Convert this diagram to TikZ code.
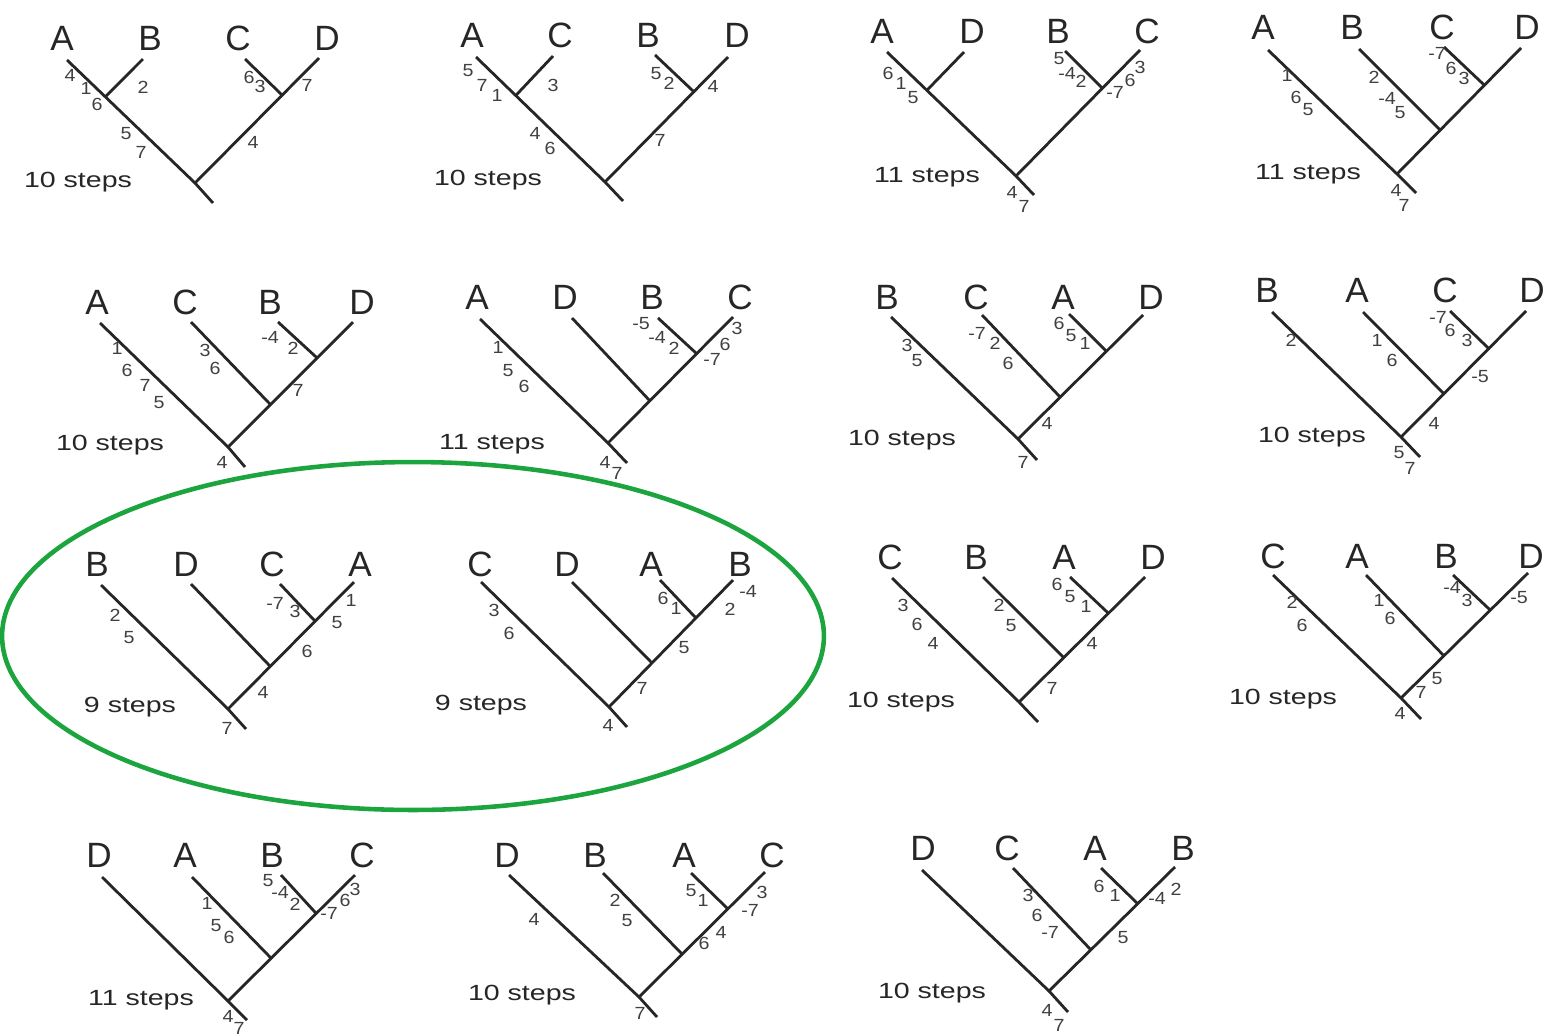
\documentclass[tikz,border=0pt]{standalone}
\usepackage{fontspec}
\setmainfont{Liberation Sans}
\newfontfamily\stepsfont[FakeStretch=1.3]{Liberation Sans}
\newfontfamily\numfont[FakeStretch=1.12]{Liberation Sans}
\usepackage{tikz}
\definecolor{ringgreen}{RGB}{28,164,62}

\begin{document}
\begin{tikzpicture}[
    x=0.02cm, y=-0.02cm,
    branch/.style={line width=1.6pt, draw=black!85},
    leaf/.style={font=\fontsize{20}{20}\selectfont, text=black!85, inner sep=0pt, text depth=0pt},
    num/.style={font=\numfont\fontsize{10}{10}\selectfont, text=black!75, inner sep=0pt, text depth=0pt},
    score/.style={font=\stepsfont\fontsize{12.5}{12.5}\selectfont, text=black!85, inner sep=0pt, text depth=0pt},
    ring/.style={draw=ringgreen, line width=2.6pt}]

    \useasboundingbox (0,0) rectangle (1548,1035);

    % the two shortest trees
    \draw[ring] (413,636) ellipse [x radius=8.22cm, y radius=3.48cm];

    % tree 1: ((A,B),(C,D))
    \coordinate (r1) at (195,183); \coordinate (s1) at (213,203);
    \coordinate (p1a) at (67,60); \coordinate (p1b) at (143,59);
    \coordinate (p1c) at (245,59); \coordinate (p1d) at (319,58);
    \coordinate (u1) at (intersection of p1a--r1 and p1b--109,93);
    \coordinate (v1) at (intersection of r1--p1d and p1c--282,95);
    \draw[branch] (p1a) -- (r1) -- (s1);
    \draw[branch] (r1) -- (p1d);
    \draw[branch] (p1b) -- (u1);
    \draw[branch] (p1c) -- (v1);
    \node[leaf] (L1a) at (62,38) {A}; \node[leaf] (L1b) at (150,38) {B};
    \node[leaf] (L1c) at (238,38) {C}; \node[leaf] (L1d) at (327,38) {D};
    \node[score] (S1) at (78,180) {10 steps};
    \foreach \x/\y/\n [count=\i] in {70/75/4, 86/88/1, 97/104/6, 143/87/2, 249/77/6, 260/86/3, 307/85/7, 126/133/5, 141/152/7, 253/142/4}
        \node[num] (n1-\i) at (\x,\y) {\n};

    % tree 2: ((A,C),(B,D))
    \coordinate (r2) at (605,182); \coordinate (s2) at (623,201);
    \coordinate (p2a) at (476,57); \coordinate (p2b) at (553,56);
    \coordinate (p2c) at (655,55); \coordinate (p2d) at (728,57);
    \coordinate (u2) at (intersection of p2a--r2 and p2b--519,92);
    \coordinate (v2) at (intersection of r2--p2d and p2c--693,91);
    \draw[branch] (p2a) -- (r2) -- (s2);
    \draw[branch] (r2) -- (p2d);
    \draw[branch] (p2b) -- (u2);
    \draw[branch] (p2c) -- (v2);
    \node[leaf] (L2a) at (472,35) {A}; \node[leaf] (L2b) at (560,35) {C};
    \node[leaf] (L2c) at (648,35) {B}; \node[leaf] (L2d) at (737,35) {D};
    \node[score] (S2) at (488,178) {10 steps};
    \foreach \x/\y/\n [count=\i] in {468/70/5, 482/85/7, 497/95/1, 553/85/3, 656/73/5, 669/83/2, 713/86/4, 535/133/4, 550/148/6, 660/140/7}
        \node[num] (n2-\i) at (\x,\y) {\n};

    % tree 3: ((A,D),(B,C))
    \coordinate (r3) at (1016,176); \coordinate (s3) at (1034,195);
    \coordinate (p3a) at (887,52); \coordinate (p3b) at (964,52);
    \coordinate (p3c) at (1065,51); \coordinate (p3d) at (1140,50);
    \coordinate (u3) at (intersection of p3a--r3 and p3b--929,88);
    \coordinate (v3) at (intersection of r3--p3d and p3c--1102,88);
    \draw[branch] (p3a) -- (r3) -- (s3);
    \draw[branch] (r3) -- (p3d);
    \draw[branch] (p3b) -- (u3);
    \draw[branch] (p3c) -- (v3);
    \node[leaf] (L3a) at (882,31) {A}; \node[leaf] (L3b) at (972,31) {D};
    \node[leaf] (L3c) at (1058,31) {B}; \node[leaf] (L3d) at (1147,31) {C};
    \node[score] (S3) at (927,175) {11 steps};
    \foreach \x/\y/\n [count=\i] in {888/73/6, 901/83/1, 913/97/5, 1059/58/5, 1067/73/-4, 1081/81/2, 1115/92/-7, 1130/80/6, 1140/67/3, 1012/192/4, 1024/206/7}
        \node[num] (n3-\i) at (\x,\y) {\n};

    % tree 4: (A,(B,(C,D)))
    \coordinate (r4) at (1397,174); \coordinate (s4) at (1416,193);
    \coordinate (p4a) at (1268,50); \coordinate (p4b) at (1359,49);
    \coordinate (p4c) at (1444,47); \coordinate (p4d) at (1521,48);
    \coordinate (u4) at (intersection of r4--p4d and p4b--1439,129);
    \coordinate (v4) at (intersection of r4--p4d and p4c--1484,85);
    \draw[branch] (p4a) -- (r4) -- (s4);
    \draw[branch] (r4) -- (p4d);
    \draw[branch] (p4b) -- (u4);
    \draw[branch] (p4c) -- (v4);
    \node[leaf] (L4a) at (1263,27) {A}; \node[leaf] (L4b) at (1352,27) {B};
    \node[leaf] (L4c) at (1442,27) {C}; \node[leaf] (L4d) at (1527,27) {D};
    \node[score] (S4) at (1308,172) {11 steps};
    \foreach \x/\y/\n [count=\i] in {1287/75/1, 1296/97/6, 1308/109/5, 1374/77/2, 1387/98/-4, 1400/112/5, 1437/53/-7, 1451/68/6, 1464/78/3, 1396/190/4, 1404/205/7}
        \node[num] (n4-\i) at (\x,\y) {\n};

    % tree 5: (A,(C,(B,D)))
    \coordinate (r5) at (228,447); \coordinate (s5) at (245,467);
    \coordinate (p5a) at (100,323); \coordinate (p5b) at (191,322);
    \coordinate (p5c) at (278,322); \coordinate (p5d) at (353,322);
    \coordinate (u5) at (intersection of r5--p5d and p5b--269,403);
    \coordinate (v5) at (intersection of r5--p5d and p5c--315,356);
    \draw[branch] (p5a) -- (r5) -- (s5);
    \draw[branch] (r5) -- (p5d);
    \draw[branch] (p5b) -- (u5);
    \draw[branch] (p5c) -- (v5);
    \node[leaf] (L5a) at (97,302) {A}; \node[leaf] (L5b) at (185,302) {C};
    \node[leaf] (L5c) at (270,302) {B}; \node[leaf] (L5d) at (362,302) {D};
    \node[score] (S5) at (110,443) {10 steps};
    \foreach \x/\y/\n [count=\i] in {117/348/1, 127/370/6, 145/385/7, 159/402/5, 205/350/3, 215/368/6, 270/337/-4, 293/348/2, 298/390/7, 222/462/4}
        \node[num] (n5-\i) at (\x,\y) {\n};

    % tree 6: (A,(D,(B,C)))
    \coordinate (r6) at (608,443); \coordinate (s6) at (627,463);
    \coordinate (p6a) at (480,319); \coordinate (p6b) at (572,318);
    \coordinate (p6c) at (658,318); \coordinate (p6d) at (733,317);
    \coordinate (u6) at (intersection of r6--p6d and p6b--650,401);
    \coordinate (v6) at (intersection of r6--p6d and p6c--697,354);
    \draw[branch] (p6a) -- (r6) -- (s6);
    \draw[branch] (r6) -- (p6d);
    \draw[branch] (p6b) -- (u6);
    \draw[branch] (p6c) -- (v6);
    \node[leaf] (L6a) at (477,297) {A}; \node[leaf] (L6b) at (565,297) {D};
    \node[leaf] (L6c) at (652,297) {B}; \node[leaf] (L6d) at (740,297) {C};
    \node[score] (S6) at (492,442) {11 steps};
    \foreach \x/\y/\n [count=\i] in {498/347/1, 508/370/5, 524/386/6, 641/323/-5, 657/337/-4, 674/348/2, 712/359/-7, 725/344/6, 737/328/3, 605/462/4, 617/473/7}
        \node[num] (n6-\i) at (\x,\y) {\n};

    % tree 7: (B,(C,(A,D)))
    \coordinate (r7) at (1018,439); \coordinate (s7) at (1037,460);
    \coordinate (p7a) at (891,317); \coordinate (p7b) at (982,315);
    \coordinate (p7c) at (1069,314); \coordinate (p7d) at (1143,315);
    \coordinate (u7) at (intersection of r7--p7d and p7b--1060,397);
    \coordinate (v7) at (intersection of r7--p7d and p7c--1106,351);
    \draw[branch] (p7a) -- (r7) -- (s7);
    \draw[branch] (r7) -- (p7d);
    \draw[branch] (p7b) -- (u7);
    \draw[branch] (p7c) -- (v7);
    \node[leaf] (L7a) at (887,297) {B}; \node[leaf] (L7b) at (976,297) {C};
    \node[leaf] (L7c) at (1063,297) {A}; \node[leaf] (L7d) at (1151,297) {D};
    \node[score] (S7) at (902,438) {10 steps};
    \foreach \x/\y/\n [count=\i] in {907/345/3, 917/360/5, 977/333/-7, 995/343/2, 1008/363/6, 1059/323/6, 1071/335/5, 1085/343/1, 1047/423/4, 1023/462/7}
        \node[num] (n7-\i) at (\x,\y) {\n};

    % tree 8: (B,(A,(C,D)))
    \coordinate (r8) at (1401,437); \coordinate (s8) at (1420,457);
    \coordinate (p8a) at (1272,312); \coordinate (p8b) at (1363,312);
    \coordinate (p8c) at (1450,311); \coordinate (p8d) at (1526,311);
    \coordinate (u8) at (intersection of r8--p8d and p8b--1443,393);
    \coordinate (v8) at (intersection of r8--p8d and p8c--1488,348);
    \draw[branch] (p8a) -- (r8) -- (s8);
    \draw[branch] (r8) -- (p8d);
    \draw[branch] (p8b) -- (u8);
    \draw[branch] (p8c) -- (v8);
    \node[leaf] (L8a) at (1267,290) {B}; \node[leaf] (L8b) at (1357,290) {A};
    \node[leaf] (L8c) at (1445,290) {C}; \node[leaf] (L8d) at (1532,290) {D};
    \node[score] (S8) at (1312,435) {10 steps};
    \foreach \x/\y/\n [count=\i] in {1291/340/2, 1377/340/1, 1392/360/6, 1438/317/-7, 1450/330/6, 1467/340/3, 1480/376/-5, 1434/423/4, 1399/452/5, 1410/468/7}
        \node[num] (n8-\i) at (\x,\y) {\n};

    % tree 9: (B,(D,(C,A)))
    \coordinate (r9) at (228,709); \coordinate (s9) at (246,729);
    \coordinate (p9a) at (101,585); \coordinate (p9b) at (191,584);
    \coordinate (p9c) at (280,584); \coordinate (p9d) at (354,582);
    \coordinate (u9) at (intersection of r9--p9d and p9b--269,665);
    \coordinate (v9) at (intersection of r9--p9d and p9c--315,621);
    \draw[branch] (p9a) -- (r9) -- (s9);
    \draw[branch] (r9) -- (p9d);
    \draw[branch] (p9b) -- (u9);
    \draw[branch] (p9c) -- (v9);
    \node[leaf] (L9a) at (97,564) {B}; \node[leaf] (L9b) at (186,564) {D};
    \node[leaf] (L9c) at (272,564) {C}; \node[leaf] (L9d) at (360,564) {A};
    \node[score] (S9) at (130,705) {9 steps};
    \foreach \x/\y/\n [count=\i] in {115/615/2, 129/637/5, 275/603/-7, 295/611/3, 351/600/1, 337/622/5, 307/651/6, 263/692/4, 227/728/7}
        \node[num] (n9-\i) at (\x,\y) {\n};

    % tree 10: (C,(D,(A,B)))
    \coordinate (r10) at (609,707); \coordinate (s10) at (627,727);
    \coordinate (p10a) at (481,582); \coordinate (p10b) at (572,582);
    \coordinate (p10c) at (660,580); \coordinate (p10d) at (733,580);
    \coordinate (u10) at (intersection of r10--p10d and p10b--651,662);
    \coordinate (v10) at (intersection of r10--p10d and p10c--695,617);
    \draw[branch] (p10a) -- (r10) -- (s10);
    \draw[branch] (r10) -- (p10d);
    \draw[branch] (p10b) -- (u10);
    \draw[branch] (p10c) -- (v10);
    \node[leaf] (L10a) at (480,564) {C}; \node[leaf] (L10b) at (567,564) {D};
    \node[leaf] (L10c) at (651,564) {A}; \node[leaf] (L10d) at (740,564) {B};
    \node[score] (S10) at (481,703) {9 steps};
    \foreach \x/\y/\n [count=\i] in {494/610/3, 509/633/6, 663/598/6, 676/608/1, 748/591/-4, 730/609/2, 684/647/5, 642/688/7, 608/725/4}
        \node[num] (n10-\i) at (\x,\y) {\n};

    % tree 11: (C,(B,(A,D)))
    \coordinate (r11) at (1019,702); \coordinate (s11) at (1038,722);
    \coordinate (p11a) at (892,578); \coordinate (p11b) at (983,577);
    \coordinate (p11c) at (1070,577); \coordinate (p11d) at (1145,577);
    \coordinate (u11) at (intersection of r11--p11d and p11b--1064,658);
    \coordinate (v11) at (intersection of r11--p11d and p11c--1107,612);
    \draw[branch] (p11a) -- (r11) -- (s11);
    \draw[branch] (r11) -- (p11d);
    \draw[branch] (p11b) -- (u11);
    \draw[branch] (p11c) -- (v11);
    \node[leaf] (L11a) at (890,557) {C}; \node[leaf] (L11b) at (976,557) {B};
    \node[leaf] (L11c) at (1064,557) {A}; \node[leaf] (L11d) at (1153,557) {D};
    \node[score] (S11) at (901,700) {10 steps};
    \foreach \x/\y/\n [count=\i] in {903/605/3, 917/624/6, 933/643/4, 999/605/2, 1011/625/5, 1057/584/6, 1070/596/5, 1086/606/1, 1092/643/4, 1052/688/7}
        \node[num] (n11-\i) at (\x,\y) {\n};

    % tree 12: (C,(A,(B,D)))
    \coordinate (r12) at (1401,698); \coordinate (s12) at (1421,719);
    \coordinate (p12a) at (1273,575); \coordinate (p12b) at (1366,575);
    \coordinate (p12c) at (1453,575); \coordinate (p12d) at (1528,573);
    \coordinate (u12) at (intersection of r12--p12d and p12b--1444,656);
    \coordinate (v12) at (intersection of r12--p12d and p12c--1489,609);
    \draw[branch] (p12a) -- (r12) -- (s12);
    \draw[branch] (r12) -- (p12d);
    \draw[branch] (p12b) -- (u12);
    \draw[branch] (p12c) -- (v12);
    \node[leaf] (L12a) at (1273,556) {C}; \node[leaf] (L12b) at (1357,556) {A};
    \node[leaf] (L12c) at (1446,556) {B}; \node[leaf] (L12d) at (1531,556) {D};
    \node[score] (S12) at (1283,697) {10 steps};
    \foreach \x/\y/\n [count=\i] in {1292/602/2, 1302/625/6, 1379/600/1, 1390/618/6, 1452/587/-4, 1467/600/3, 1519/597/-5, 1437/678/5, 1421/692/7, 1400/713/4}
        \node[num] (n12-\i) at (\x,\y) {\n};

    % tree 13: (D,(A,(B,C)))
    \coordinate (r13) at (228,1001); \coordinate (s13) at (247,1020);
    \coordinate (p13a) at (102,877); \coordinate (p13b) at (192,877);
    \coordinate (p13c) at (281,875); \coordinate (p13d) at (355,875);
    \coordinate (u13) at (intersection of r13--p13d and p13b--271,958);
    \coordinate (v13) at (intersection of r13--p13d and p13c--314,911);
    \draw[branch] (p13a) -- (r13) -- (s13);
    \draw[branch] (r13) -- (p13d);
    \draw[branch] (p13b) -- (u13);
    \draw[branch] (p13c) -- (v13);
    \node[leaf] (L13a) at (99,855) {D}; \node[leaf] (L13b) at (185,855) {A};
    \node[leaf] (L13c) at (272,855) {B}; \node[leaf] (L13d) at (362,855) {C};
    \node[score] (S13) at (141,998) {11 steps};
    \foreach \x/\y/\n [count=\i] in {207/903/1, 216/925/5, 229/937/6, 268/880/5, 280/892/-4, 295/904/2, 329/913/-7, 345/900/6, 355/889/3, 228/1016/4, 239/1028/7}
        \node[num] (n13-\i) at (\x,\y) {\n};

    % tree 14: (D,(B,(A,C)))
    \coordinate (r14) at (639,997); \coordinate (s14) at (657,1017);
    \coordinate (p14a) at (509,875); \coordinate (p14b) at (603,873);
    \coordinate (p14c) at (691,873); \coordinate (p14d) at (765,872);
    \coordinate (u14) at (intersection of r14--p14d and p14b--683,955);
    \coordinate (v14) at (intersection of r14--p14d and p14c--727,908);
    \draw[branch] (p14a) -- (r14) -- (s14);
    \draw[branch] (r14) -- (p14d);
    \draw[branch] (p14b) -- (u14);
    \draw[branch] (p14c) -- (v14);
    \node[leaf] (L14a) at (507,855) {D}; \node[leaf] (L14b) at (595,855) {B};
    \node[leaf] (L14c) at (684,855) {A}; \node[leaf] (L14d) at (772,855) {C};
    \node[score] (S14) at (522,993) {10 steps};
    \foreach \x/\y/\n [count=\i] in {534/919/4, 615/900/2, 627/920/5, 691/890/5, 703/900/1, 750/910/-7, 762/892/3, 721/932/4, 704/943/6, 640/1013/7}
        \node[num] (n14-\i) at (\x,\y) {\n};

    % tree 15: (D,(C,(A,B)))
    \coordinate (r15) at (1049,991); \coordinate (s15) at (1068,1012);
    \coordinate (p15a) at (922,870); \coordinate (p15b) at (1013,868);
    \coordinate (p15c) at (1101,868); \coordinate (p15d) at (1175,867);
    \coordinate (u15) at (intersection of r15--p15d and p15b--1091,950);
    \coordinate (v15) at (intersection of r15--p15d and p15c--1138,904);
    \draw[branch] (p15a) -- (r15) -- (s15);
    \draw[branch] (r15) -- (p15d);
    \draw[branch] (p15b) -- (u15);
    \draw[branch] (p15c) -- (v15);
    \node[leaf] (L15a) at (923,848) {D}; \node[leaf] (L15b) at (1007,848) {C};
    \node[leaf] (L15c) at (1095,848) {A}; \node[leaf] (L15d) at (1183,848) {B};
    \node[score] (S15) at (932,991) {10 steps};
    \foreach \x/\y/\n [count=\i] in {1028/895/3, 1037/915/6, 1050/932/-7, 1099/886/6, 1115/895/1, 1157/898/-4, 1176/889/2, 1123/937/5, 1047/1010/4, 1059/1025/7}
        \node[num] (n15-\i) at (\x,\y) {\n};
\end{tikzpicture}
\end{document}
